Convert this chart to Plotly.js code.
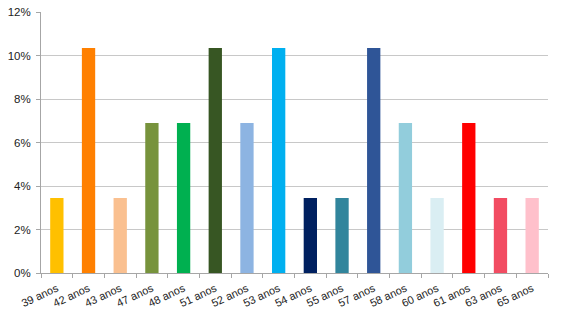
<!DOCTYPE html>
<html><head><meta charset="utf-8">
<script src="https://cdn.plot.ly/plotly-3.0.1.min.js"></script>
<style>html,body{margin:0;padding:0;background:#fff}#chart{width:563px;height:317px}</style>
</head><body><div id="chart"></div>
<script>
const categories = ["39 anos","42 anos","43 anos","47 anos","48 anos","51 anos","52 anos","53 anos","54 anos","55 anos","57 anos","58 anos","60 anos","61 anos","63 anos","65 anos"];
const values = [0.0345,0.1034,0.0345,0.069,0.069,0.1034,0.069,0.1034,0.0345,0.0345,0.1034,0.069,0.0345,0.069,0.0345,0.0345];
const colors = ["#FFC000","#FF8000","#FAC090","#77933C","#00B050","#375623","#8DB4E2","#00B0F0","#002060","#31859C","#2F5597","#92CDDC","#DAEEF3","#FF0000","#F24C62","#FFC0CB"];
const yTicks = [0,0.02,0.04,0.06,0.08,0.10,0.12];
const yTickText = ["0%","2%","4%","6%","8%","10%","12%"];

Plotly.newPlot('chart',[{
  type:'bar', x:categories, y:values,
  marker:{color:colors}, width:0.42, hoverinfo:'none'
}],{
  width:563,height:317,
  margin:{l:41,r:15,t:12,b:44},
  paper_bgcolor:'#fff',plot_bgcolor:'#fff',
  showlegend:false,
  font:{family:'Liberation Sans, Arial, sans-serif',size:11,color:'#333'},
  xaxis:{
    type:'category', tickangle:-25, showgrid:false,
    showline:true, linecolor:'#A6A6A6', linewidth:1,
    ticks:'outside', ticklen:4, tickcolor:'#A6A6A6', tickson:'boundaries',
    ticklabelstandoff:4,
    tickfont:{size:11,color:'#222'}
  },
  yaxis:{
    range:[0,0.12], tickvals:yTicks, ticktext:yTickText,
    showgrid:true, gridcolor:'#C8C8C8', gridwidth:1,
    showline:true, linecolor:'#A6A6A6', linewidth:1,
    ticks:'outside', ticklen:4, tickcolor:'#A6A6A6',
    ticklabelstandoff:3,
    zeroline:false, tickfont:{size:11.5,color:'#222'}
  }
},{staticPlot:true,displayModeBar:false});
</script></body></html>
